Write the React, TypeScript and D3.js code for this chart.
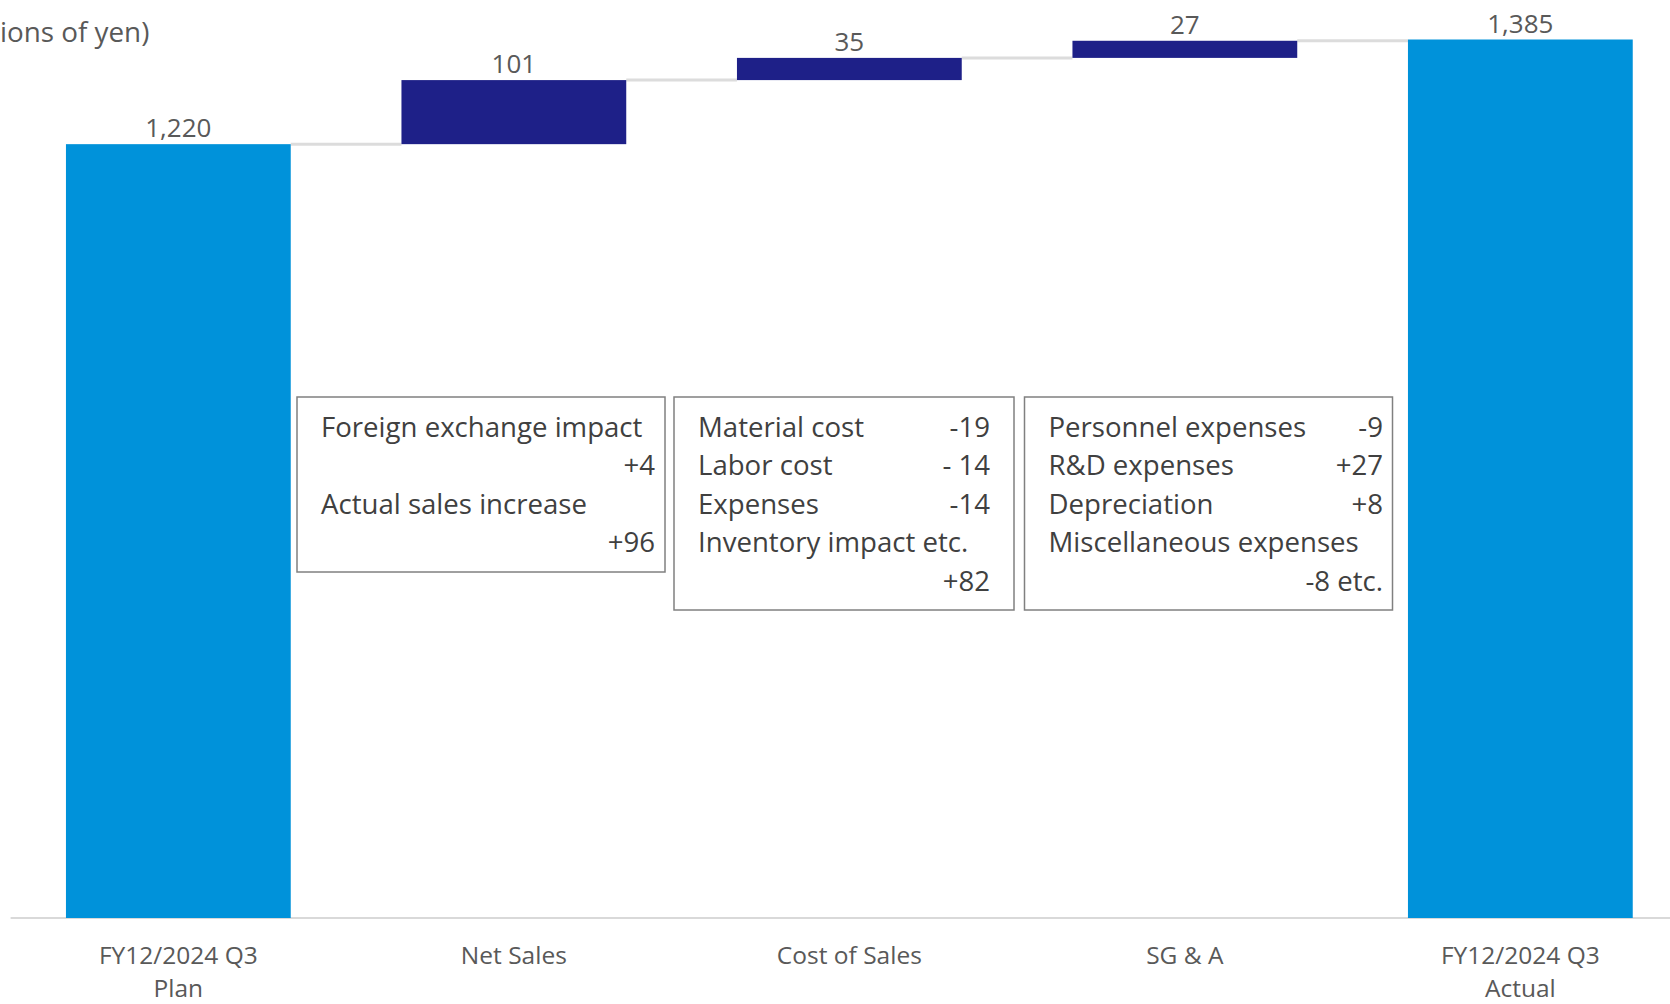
import React from "react";
import * as d3 from "d3";

const categories: string[][] = [
  ["FY12/2024 Q3", "Plan"],
  ["Net Sales"],
  ["Cost of Sales"],
  ["SG & A"],
  ["FY12/2024 Q3", "Actual"],
];
const values: number[] = [1220, 101, 35, 27, 1385];
const kinds: string[] = ["total", "delta", "delta", "delta", "total"];
const unitLabel = "ions of yen)";

const salesNotes: [string, string][] = [
  ["Foreign exchange impact", ""],
  ["", "+4"],
  ["Actual sales increase", ""],
  ["", "+96"],
];
const costNotes: [string, string][] = [
  ["Material cost", "-19"],
  ["Labor cost", "- 14"],
  ["Expenses", "-14"],
  ["Inventory impact etc.", ""],
  ["", "+82"],
];
const sgaNotes: [string, string][] = [
  ["Personnel expenses", "-9"],
  ["R&D expenses", "+27"],
  ["Depreciation", "+8"],
  ["Miscellaneous expenses", ""],
  ["", "-8 etc."],
];

const W = 1670;
const H = 1004;
const FONT = "'Open Sans', 'Noto Sans', sans-serif";
const LIGHT = "#0092DA";
const NAVY = "#1E2088";

export default function App() {
  const x = d3
    .scaleBand<number>()
    .domain(d3.range(values.length))
    .range([10.6, 10.6 + 335.5 * values.length])
    .paddingInner(0.33)
    .paddingOuter(0.165);
  const y = d3.scaleLinear().domain([0, 1385]).range([918, 39.5]);

  let run = 0;
  const segs = values.map((v, i) => {
    if (kinds[i] === "total") {
      run = v;
      return { start: 0, end: v, level: v };
    }
    const s = run;
    run = run + v;
    return { start: s, end: run, level: run };
  });
  const fmt = d3.format(",");

  const boxes = [
    { notes: salesNotes, x: 297, y: 397, w: 368, h: 175, valRight: 655 },
    { notes: costNotes, x: 674, y: 397, w: 340, h: 213, valRight: 990 },
    { notes: sgaNotes, x: 1024.5, y: 397, w: 368, h: 213, valRight: 1383 },
  ];

  return (
    <svg
      width={W}
      height={H}
      style={{ position: "absolute", left: 0, top: 0, background: "#fff" }}
      fontFamily={FONT}
    >
      <rect x={0} y={0} width={W} height={H} fill="#fff" />
      <text x={0} y={42} fontSize={27.8} fill="#595959">
        {unitLabel}
      </text>
      {segs.slice(0, -1).map((s, i) => (
        <line
          key={"c" + i}
          x1={x(i)! + x.bandwidth()}
          x2={x(i + 1)!}
          y1={y(s.level)}
          y2={y(s.level)}
          stroke="#dcdcdc"
          strokeWidth={3}
        />
      ))}
      <line x1={10.6} x2={W} y1={y(0)} y2={y(0)} stroke="#d9d9d9" strokeWidth={2} />
      {segs.map((s, i) => (
        <rect
          key={"b" + i}
          x={x(i)}
          width={x.bandwidth()}
          y={y(Math.max(s.start, s.end))}
          height={Math.abs(y(s.start) - y(s.end))}
          fill={kinds[i] === "total" ? LIGHT : NAVY}
        />
      ))}
      {segs.map((s, i) => (
        <text
          key={"v" + i}
          x={x(i)! + x.bandwidth() / 2}
          y={y(Math.max(s.start, s.end)) - 7}
          textAnchor="middle"
          fontSize={26}
          fill="#595959"
        >
          {fmt(values[i])}
        </text>
      ))}
      {categories.map((lines, i) => (
        <text
          key={"k" + i}
          x={x(i)! + x.bandwidth() / 2}
          textAnchor="middle"
          fontSize={24.5}
          fill="#595959"
        >
          {lines.map((l, j) => (
            <tspan key={j} x={x(i)! + x.bandwidth() / 2} y={963.5 + j * 33}>
              {l}
            </tspan>
          ))}
        </text>
      ))}
      {boxes.map((b, bi) => (
        <g key={"n" + bi}>
          <rect
            x={b.x}
            y={b.y}
            width={b.w}
            height={b.h}
            fill="#fff"
            stroke="#808080"
            strokeWidth={1.5}
          />
          {b.notes.map(([lbl, val], j) => (
            <g key={j}>
              {lbl && (
                <text x={b.x + 24} y={437 + j * 38.4} fontSize={27.6} fill="#404040">
                  {lbl}
                </text>
              )}
              {val && (
                <text
                  x={b.valRight}
                  y={437 + j * 38.4}
                  fontSize={27.6}
                  textAnchor="end"
                  fill="#404040"
                >
                  {val}
                </text>
              )}
            </g>
          ))}
        </g>
      ))}
    </svg>
  );
}
